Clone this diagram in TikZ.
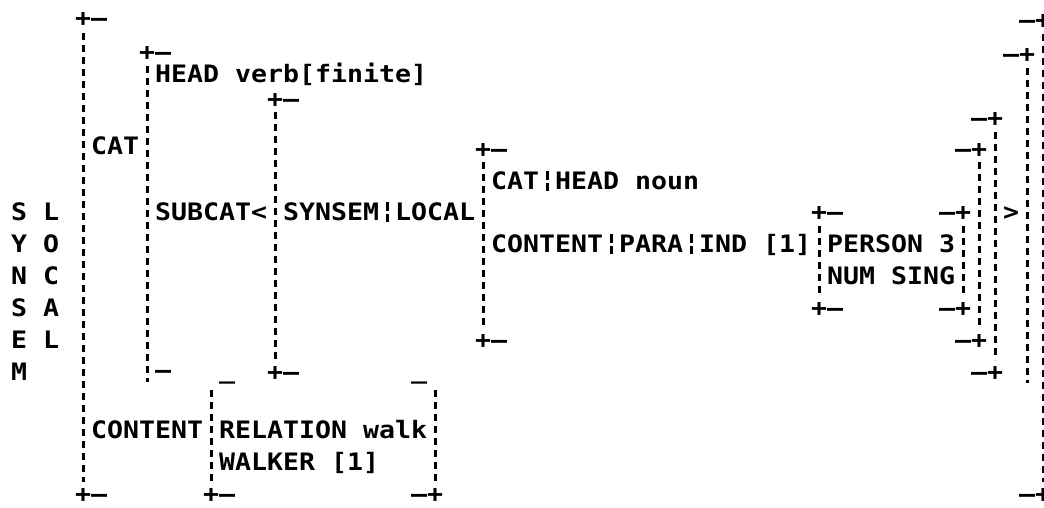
\documentclass[tikz,border=0pt]{standalone}
\usepackage{fontspec}
\newfontfamily\avmfont[FakeStretch=1.107]{DejaVu Sans Mono}
\tikzset{
  avm/.style={font=\avmfont\bfseries\fontsize{24}{24}\selectfont, inner sep=0pt, anchor=base west},
  barline/.style={line width=3pt, dash pattern=on 7pt off 5pt},
  sepline/.style={line width=3pt},
}
% text at grid column #2, row centre #3 (px from top)
\newcommand\AVt[4]{\node[avm] (#1) at ({11+16*#2},{-(#3+8.7)}) {#4};}
% dashed bracket bar at column #1 from y=#2 to y=#3
\newcommand\AVb[3]{\draw[barline] ({19+16*#1},{-(#2)}) -- ({19+16*#1},{-(#3)});}
% single broken bar at column #1, row centre #2
\newcommand\AVs[2]{\draw[sepline] ({19+16*#1},{-(#2-10)}) -- ({19+16*#1},{-(#2-1.5)}) ({19+16*#1},{-(#2+1.5)}) -- ({19+16*#1},{-(#2+10)});}
\begin{document}
\begin{tikzpicture}[x=1pt,y=1pt]
\useasboundingbox (0,0) rectangle (1044,-507);
% row 1
\AVt{a1}{4}{18}{+–}
\AVt{a2}{63}{20}{–+}
% row 2
\AVt{b1}{8}{52}{+–}
\AVt{b2}{62}{54}{–+}
% row 3
\AVt{c1}{9}{74}{HEAD verb[finite]}
% row 4
\AVt{d1}{16}{99}{+–}
% row 5
\AVt{e1}{60}{118}{–+}
% row 6
\AVt{f1}{5}{146}{CAT}
\AVt{f2}{29}{149}{+–}
\AVt{f3}{59}{149}{–+}
% row 7
\AVt{g1}{30}{181}{CAT}
\AVs{33}{181}
\AVt{g2}{34}{181}{HEAD noun}
% row 8
\AVt{h1}{0}{212}{S}
\AVt{h2}{2}{212}{L}
\AVt{h3}{9}{212}{SUBCAT<}
\AVt{h4}{17}{212}{SYNSEM}
\AVs{23}{212}
\AVt{h5}{24}{212}{LOCAL}
\AVt{h6}{50}{212}{+–}
\AVt{h7}{58}{212}{–+}
\AVt{h8}{62}{212}{>}
% row 9
\AVt{i1}{0}{244}{Y}
\AVt{i2}{2}{244}{O}
\AVt{i3}{30}{244}{CONTENT}
\AVs{37}{244}
\AVt{i4}{38}{244}{PARA}
\AVs{42}{244}
\AVt{i5}{43}{244}{IND [1]}
\AVt{i6}{51}{244}{PERSON 3}
% row 10
\AVt{j1}{0}{276}{N}
\AVt{j2}{2}{276}{C}
\AVt{j3}{51}{276}{NUM SING}
% row 11
\AVt{k1}{0}{308}{S}
\AVt{k2}{2}{308}{A}
\AVt{k3}{50}{308}{+–}
\AVt{k4}{58}{308}{–+}
% row 12
\AVt{l1}{0}{340}{E}
\AVt{l2}{2}{340}{L}
\AVt{l3}{29}{340}{+–}
\AVt{l4}{59}{340}{–+}
% row 13
\AVt{m1}{0}{372}{M}
\AVt{m2}{9}{370}{–}
\AVt{m3}{13}{370}{\_}
\AVt{m4}{16}{372}{+–}
\AVt{m5}{25}{370}{\_}
\AVt{m6}{60}{372}{–+}
% row 14
\AVt{n1}{5}{430}{CONTENT}
\AVt{n2}{13}{430}{RELATION walk}
% row 15
\AVt{o1}{13}{462}{WALKER [1]}
% row 16
\AVt{p1}{4}{494}{+–}
\AVt{p2}{12}{494}{+–}
\AVt{p3}{25}{494}{–+}
\AVt{p4}{63}{494}{–+}
% bracket bars
\AVb{4}{33}{482}
\AVb{8}{66}{382}
\AVb{16}{112}{360}
\AVb{29}{162}{328}
\AVb{50}{226}{296}
\AVb{59}{226}{296}
\AVb{60}{162}{328}
\AVb{61}{132}{360}
\AVb{63}{68}{383}
\AVb{64}{34}{482}
\AVb{12}{390}{482}
\AVb{26}{390}{482}
\end{tikzpicture}
\end{document}
